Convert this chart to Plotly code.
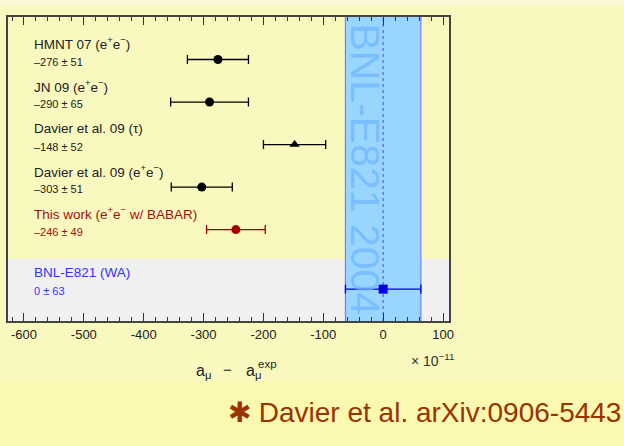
import plotly.graph_objects as go

# ---- data ----
names = ["HMNT 07 (e<sup>+</sup>e<sup>−</sup>)",
         "JN 09 (e<sup>+</sup>e<sup>−</sup>)",
         "Davier et al. 09 (τ)",
         "Davier et al. 09 (e<sup>+</sup>e<sup>−</sup>)",
         "This work (e<sup>+</sup>e<sup>−</sup> w/ BABAR)",
         "BNL-E821 (WA)"]
values = [-276, -290, -148, -303, -246, 0]
errors = [51, 65, 52, 51, 49, 63]
tick_vals = [-600, -500, -400, -300, -200, -100, 0, 100]
tick_text = ["-600", "-500", "-400", "-300", "-200", "-100", "0", "100"]
wa_value = 0
wa_error = 63

# ---- styles ----
rows = [1, 2, 3, 4, 5, 6.4]
symbols = ["circle", "circle", "triangle-up", "circle", "circle", "square"]
mcolors = ["black", "black", "black", "black", "#a00000", "#0000e6"]
tcolors = ["#222222", "#222222", "#222222", "#222222", "#a01010", "#3333ff"]
FONT = "Liberation Sans, Arial, sans-serif"

L, R, T, B = 8, 175, 17, 125
W, H = 624, 446
pw, ph = W - L - R, H - T - B

def px_x(x):
    return (x - L) / pw

def px_y(y):
    return (H - B - y) / ph

fig = go.Figure()

for i in range(len(values)):
    fig.add_trace(go.Scatter(
        x=[values[i]], y=[rows[i]], mode="markers",
        marker=dict(symbol=symbols[i], size=9, color=mcolors[i],
                    line=dict(width=0)),
        error_x=dict(type="data", array=[errors[i]], color=mcolors[i],
                     thickness=1.3, width=4.5),
        showlegend=False, hoverinfo="skip"))

def vlabel(v, e):
    return ("–" if v < 0 else "") + f"{abs(v)} ± {e}"

for i in range(len(values)):
    fig.add_annotation(x=-587, y=rows[i] - 0.38, xref="x", yref="y",
                       text=names[i], showarrow=False, xanchor="left",
                       yanchor="middle",
                       font=dict(family=FONT, size=13.5, color=tcolors[i]))
    fig.add_annotation(x=-587, y=rows[i] + 0.05, xref="x", yref="y",
                       text=vlabel(values[i], errors[i]), showarrow=False,
                       xanchor="left", yanchor="middle",
                       font=dict(family=FONT, size=11, color=tcolors[i]))

shapes = [
    # page background tones
    dict(type="rect", xref="paper", yref="paper", x0=px_x(-20), x1=px_x(700),
         y0=px_y(470), y1=px_y(381),
         fillcolor="#fbf8b0", line=dict(width=0), layer="below"),
    dict(type="rect", xref="paper", yref="paper", x0=px_x(-20), x1=px_x(700),
         y0=px_y(5), y1=px_y(-20),
         fillcolor="#fafad6", line=dict(width=0), layer="below"),
    # gray WA region
    dict(type="rect", xref="paper", yref="y", x0=0, x1=1, y0=5.69, y1=7.15,
         fillcolor="#f0f0f0", line=dict(width=0), layer="below"),
    # BNL band
    dict(type="rect", xref="x", yref="paper", x0=wa_value - wa_error,
         x1=wa_value + wa_error, y0=0, y1=1,
         fillcolor="#99d6ff", line=dict(width=0), layer="below"),
    dict(type="line", xref="x", yref="paper", x0=wa_value - wa_error,
         x1=wa_value - wa_error, y0=0, y1=1,
         line=dict(color="#7a7aff", width=1.2), layer="below"),
    dict(type="line", xref="x", yref="paper", x0=wa_value + wa_error,
         x1=wa_value + wa_error, y0=0, y1=1,
         line=dict(color="#7a7aff", width=1.2), layer="below"),
    dict(type="line", xref="x", yref="paper", x0=wa_value, x1=wa_value,
         y0=0, y1=1, line=dict(color="#5a5aff", width=1.2, dash="3px,3px"),
         layer="below"),
]

# rotated band label
fig.add_annotation(x=-31, y=0.5, xref="x", yref="paper", text="BNL-E821 2004",
                   textangle=90, showarrow=False,
                   font=dict(family=FONT, size=41, color="rgba(110,180,255,0.7)"))

def ptext(x, y, text, size, color, xanchor="left"):
    fig.add_annotation(x=px_x(x), y=px_y(y), xref="paper", yref="paper",
                       text=text, showarrow=False, xanchor=xanchor,
                       yanchor="middle",
                       font=dict(family=FONT, size=size, color=color))

# axis title  a_mu - a_mu^exp
ptext(194, 372, "a<sub>μ</sub>", 16, "#222222")
ptext(221, 369, "−", 15, "#222222")
ptext(244, 372, "a<sub>μ</sub>", 16, "#222222")
ptext(256, 364, "exp", 11.5, "#222222")
# x10^-11
ptext(457, 360, "× 10<sup>−11</sup>", 14, "#333333", xanchor="right")
# footer
ptext(623, 412, "✱ Davier et al. arXiv:0906-5443", 28, "#993300", xanchor="right")

fig.update_layout(
    width=W, height=H,
    margin=dict(l=L, r=R, t=T, b=B, pad=0),
    paper_bgcolor="#f9f8bf", plot_bgcolor="#f9f8bf",
    shapes=shapes,
    font=dict(family=FONT, size=13, color="#222222"),
    xaxis=dict(range=[-626.7, 110], showgrid=False, zeroline=False,
               tickvals=tick_vals, ticktext=tick_text,
               ticks="inside", ticklen=8, tickwidth=1, tickcolor="#333333",
               showline=True, linecolor="#444444", linewidth=1.5, mirror="ticks",
               minor=dict(ticks="inside", ticklen=4, dtick=20, tick0=0,
                          tickcolor="#333333", showgrid=False),
               tickfont=dict(family=FONT, size=13, color="#222222"),
               ticklabelstandoff=1),
    yaxis=dict(range=[7.15, 0], showgrid=False, zeroline=False,
               showticklabels=False, ticks="", showline=True,
               linecolor="#444444", linewidth=1.5, mirror=True),
)

fig.write_html("out.html", config={"displayModeBar": False},
               post_script="document.body.style.margin='0';document.body.style.padding='0';")
